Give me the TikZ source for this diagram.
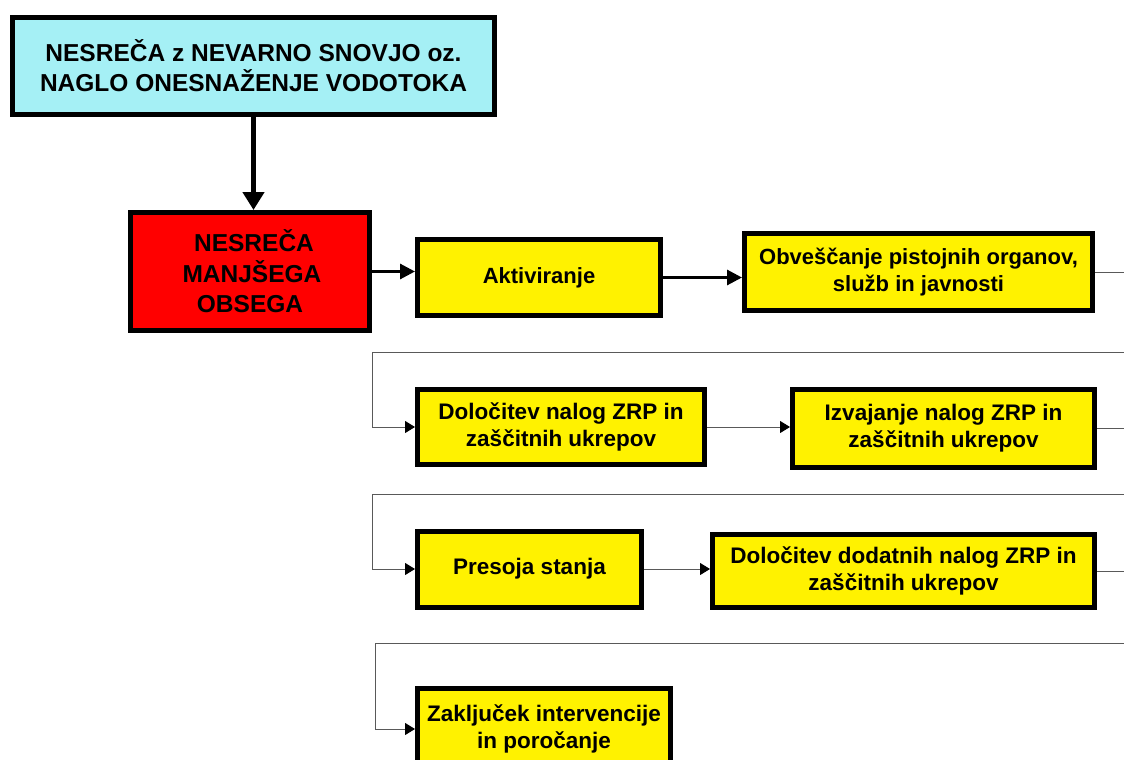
\documentclass[tikz,border=0pt]{standalone}
\usepackage{fontspec}
\setmainfont{Liberation Sans}
\usetikzlibrary{arrows.meta}
\definecolor{lightcyan}{RGB}{165,240,245}
\tikzset{
  box/.style={draw=black, line width=5pt, fill=yellow, inner sep=0pt, align=center,
    font=\bfseries\fontsize{22.5}{27}\selectfont},
  thinline/.style={draw=black!65, line width=1pt},
  thinarrow/.style={thinline, -{Triangle[length=10pt,width=12pt,black]}},
  midarrow/.style={draw=black, line width=3pt, -{Triangle[length=15pt,width=15pt]}},
  bigarrow/.style={draw=black, line width=4.5pt, -{Triangle[length=18pt,width=21pt]}}
}
\begin{document}
\begin{tikzpicture}[x=1pt,y=-1pt]
\useasboundingbox (0,0) rectangle (1124,760);
% nodes
\node[box, fill=lightcyan, minimum width=482pt, minimum height=97pt,
  font=\bfseries\fontsize{24.5}{30}\selectfont] (top) at (253.5,66)
  {NESREČA z NEVARNO SNOVJO oz.\\NAGLO ONESNAŽENJE VODOTOKA};
\node[box, fill=red, minimum width=239pt, minimum height=118pt,
  font=\bfseries\fontsize{24.5}{30.5}\selectfont] (red) at (250,271.5)
  {\hspace*{8pt}NESREČA\\\hspace*{4pt}MANJŠEGA\\OBSEGA};
\node[box, minimum width=243pt, minimum height=76pt,
  font=\bfseries\fontsize{22}{27}\selectfont] (akt) at (539,277.5) {Aktiviranje};
\node[box, minimum width=348pt, minimum height=77pt,
  font=\bfseries\fontsize{22}{27}\selectfont] (obv) at (918.5,272)
  {Obveščanje pistojnih organov,\\služb in javnosti};
\node[box, minimum width=287pt, minimum height=75pt] (dol) at (561,427)
  {Določitev nalog ZRP in\\zaščitnih ukrepov};
\node[box, minimum width=302pt, minimum height=78pt] (izv) at (943.5,428.5)
  {Izvajanje nalog ZRP in\\zaščitnih ukrepov};
\node[box, minimum width=224pt, minimum height=76pt] (pres) at (529.5,569)
  {Presoja stanja};
\node[box, minimum width=382pt, minimum height=73pt] (dod) at (903.5,571)
  {Določitev dodatnih nalog ZRP in\\zaščitnih ukrepov};
\node[box, minimum width=253pt, minimum height=82pt] (zak) at (544,729)
  {Zaključek intervencije\\in poročanje};
% coordinates at the right edge
\coordinate (edge) at (1124,0);
\coordinate (r1) at (1124,352);
\coordinate (c1) at (372,352);
\coordinate (r2) at (1124,494);
\coordinate (c2) at (372,494);
\coordinate (r3) at (1124,643);
\coordinate (c3) at (375,643);
% connectors
\draw[bigarrow] (top.south) -- (top.south |- red.north);
\draw[midarrow] (red.east) -- (red.east -| akt.west);
\draw[midarrow] (akt.east) -- (akt.east -| obv.west);
\draw[thinline] (obv.east) -- (obv.east -| edge);
\draw[thinarrow] (r1) -- (c1) |- (dol.west);
\draw[thinarrow] (dol.east) -- (dol.east -| izv.west);
\draw[thinline] (izv.east) -- (izv.east -| edge);
\draw[thinarrow] (r2) -- (c2) |- (pres.west);
\draw[thinarrow] (pres.east) -- (pres.east -| dod.west);
\draw[thinline] (dod.east) -- (dod.east -| edge);
\draw[thinarrow] (r3) -- (c3) |- (zak.west);
\end{tikzpicture}
\end{document}
